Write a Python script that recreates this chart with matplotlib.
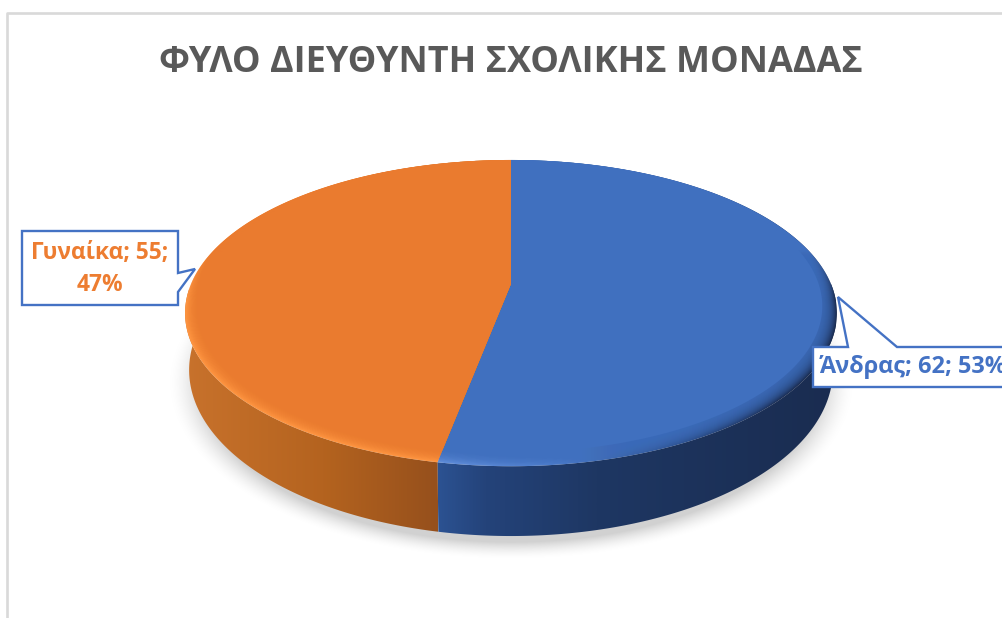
import numpy as np
import matplotlib
matplotlib.use("Agg")
import matplotlib.pyplot as plt
from matplotlib.colors import LinearSegmentedColormap, to_rgb
from matplotlib.patches import Polygon

title = "ΦΥΛΟ ΔΙΕΥΘΥΝΤΗ ΣΧΟΛΙΚΗΣ ΜΟΝΑΔΑΣ"
categories = ["Άνδρας", "Γυναίκα"]
values = [62, 55]
percents = [53, 47]

BLUE = "#4472C4"
ORANGE = "#ED7D31"
FONT = "Open Sans"

# disc projection: k tilts the circle so the front looks nearer than the back
K = 0.19
TOP = dict(cx=511, cy=284, bx=320, by=147.6)
BOTTOM = dict(cx=511, cy=338.5, bx=316, by=160)


def project(theta, disc, scale=1.0):
    # theta in degrees, clockwise from 12 o'clock
    t = np.radians(theta)
    x, y = np.sin(t), -np.cos(t)
    w = 1 - K * y
    # shrink towards the back edge, so the rim only shows at the front
    back = disc["by"] / (1 + K)
    cy = disc["cy"] - back * (1 - scale)
    return np.column_stack([disc["cx"] + scale * disc["bx"] * x / w,
                            cy + scale * disc["by"] * y / w])


def clipped_gradient(ax, clip, stops, x0, x1, y0, y1, z):
    cmap = LinearSegmentedColormap.from_list("g", stops)
    grad = np.linspace(0, 1, 400).reshape(1, -1)
    im = ax.imshow(grad, cmap=cmap, extent=[x0, x1, y1, y0], aspect="auto",
                   zorder=z, interpolation="bilinear")
    im.set_clip_path(clip)


fig = plt.figure(figsize=(10.02, 6.18), dpi=100, facecolor="white")
ax = fig.add_axes([0, 0, 1, 1])
ax.axis("off")

# chart area border, only top and left are in frame
ax.plot([7, 7, 1010], [620, 13, 13], color="#D9D9D9", lw=1.9, zorder=1)

# soft shadow under the disc
xx, yy = np.meshgrid(np.arange(140, 880), np.arange(300, 580))
d = np.hypot((xx - 511) / 326.0, (yy - 382) / 168.0)
alpha = np.clip((1.05 - d) / 0.10, 0, 1) ** 1.6
shadow = np.zeros(d.shape + (4,))
shadow[..., :3] = 0.82
shadow[..., 3] = alpha
ax.imshow(shadow, extent=[140, 880, 580, 300], aspect="auto", zorder=2)

split = 360.0 * values[0] / sum(values)

# side walls, the hidden part of each is covered by the top face
wall_stops = [
    [(0.0, "#C8722C"), (0.55, "#B4631F"), (1.0, "#96501C")],
    [(0.0, "#2C5292"), (0.12, "#24437A"), (0.4, "#1E3763"), (1.0, "#1A2C50")],
]
wall_spans = [(90, split), (split, 268)]
wall_x = [(437, 836), (184, 438)]
for i in [0, 1]:
    th = np.linspace(wall_spans[i][0], wall_spans[i][1], 160)
    pts = np.vstack([project(th, TOP), project(th[::-1], BOTTOM)])
    clip = Polygon(pts, closed=True, transform=ax.transData)
    clipped_gradient(ax, clip, wall_stops[1 - i], wall_x[i][0], wall_x[i][1], 150, 560, 3)

# top face: rim colour first, then shrinking soft layers of the face colour
rim_stops = [
    [(0.0, "#6390DC"), (0.3, "#4A7AC9"), (0.6, "#2F5596"), (0.85, "#1C3058"), (1.0, "#1A2C50")],
    [(0.0, "#FF9642"), (1.0, "#FF9642")],
]
face_spans = [(0, split), (split, 360)]
face_x = [(437, 840), (180, 515)]
face_fill = ["#4070BF", "#EA7B2F"]
for i in [0, 1]:
    th = np.linspace(face_spans[i][0], face_spans[i][1], 300)
    wedge = np.vstack([project(th, TOP), [[TOP["cx"], TOP["cy"]]]])
    clip = Polygon(wedge, closed=True, transform=ax.transData)
    clipped_gradient(ax, clip, rim_stops[i], face_x[i][0], face_x[i][1], 150, 480, 4)

    # the rim fades out towards the back of the disc
    fade = np.zeros((200, 1, 4))
    fade[..., :3] = to_rgb(face_fill[i])
    fade[:, 0, 3] = np.clip((300 - np.linspace(150, 480, 200)) / 50.0, 0, 1)
    im = ax.imshow(fade, extent=[150, 880, 480, 150], aspect="auto", zorder=4.5)
    im.set_clip_path(clip)

    n = 16
    for j in range(n):
        s = 1.0 - 0.042 * (j + 1) / n
        circle = project(np.linspace(0, 360, 361), TOP, s)
        layer = Polygon(circle, closed=True, facecolor=face_fill[i], edgecolor="none",
                        alpha=0.13, zorder=5)
        ax.add_patch(layer)
        layer.set_clip_path(clip)
    core = Polygon(project(np.linspace(0, 360, 361), TOP, 0.955), closed=True,
                   facecolor=face_fill[i], edgecolor="none", zorder=5)
    ax.add_patch(core)
    core.set_clip_path(clip)

# callouts
orange_box = [(22, 231), (178, 231), (178, 273), (195, 269), (178, 292), (178, 305), (22, 305)]
blue_box = [(813, 347), (848, 347), (838, 297), (897, 347), (1012, 347), (1012, 387), (813, 387)]
ax.add_patch(Polygon(orange_box, closed=True, facecolor="white", edgecolor=BLUE, lw=1.7, zorder=6))
ax.add_patch(Polygon(blue_box, closed=True, facecolor="white", edgecolor=BLUE, lw=1.7, zorder=6))

ax.text(100, 253, f"{categories[1]}; {values[1]};", color=ORANGE, fontsize=16.4, fontweight="bold",
        family=FONT, ha="center", va="center", zorder=7)
ax.text(100, 285, f"{percents[1]}%", color=ORANGE, fontsize=16.4, fontweight="bold",
        family=FONT, ha="center", va="center", zorder=7)
ax.text(820, 367, f"{categories[0]}; {values[0]}; {percents[0]}%", color=BLUE, fontsize=16.9,
        fontweight="bold", family=FONT, ha="left", va="center", zorder=7, clip_on=True)

ax.text(511, 63, title, color="#595959", fontsize=25.9, fontweight="bold", family=FONT,
        ha="center", va="center", zorder=7)

ax.set_xlim(0, 1002)
ax.set_ylim(618, 0)
fig.savefig("out.png", dpi=100, facecolor="white")
